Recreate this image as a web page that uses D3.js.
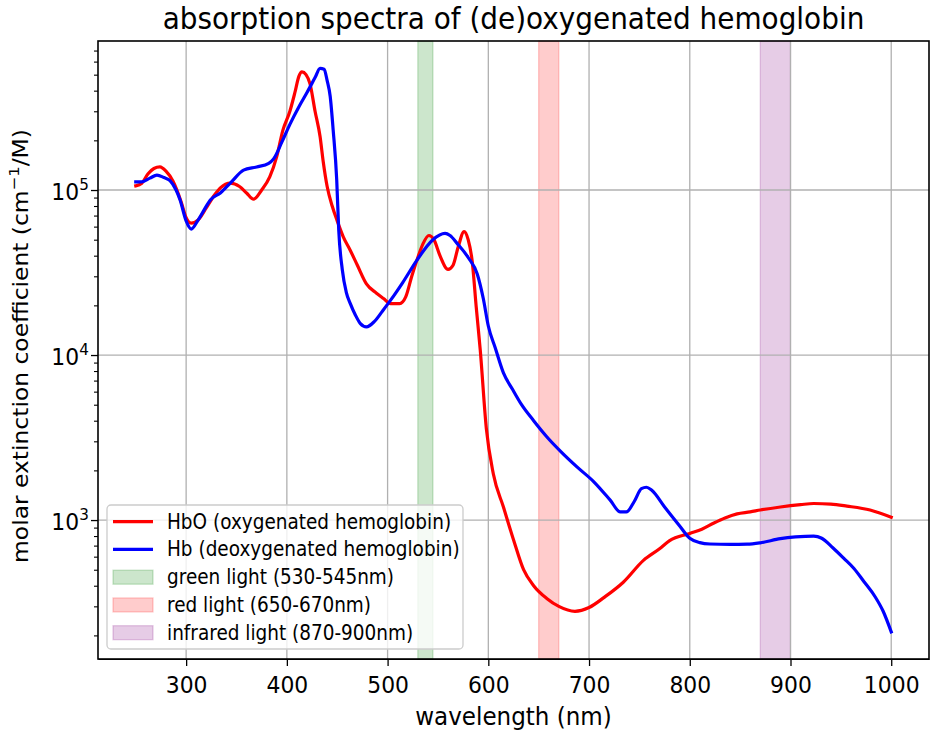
<!DOCTYPE html>
<html>
<head>
<meta charset="utf-8">
<script src="https://cdn.jsdelivr.net/npm/d3@7"></script>
<style>
  html, body { margin: 0; padding: 0; background: #fff; }
  svg { display: block; font-family: "DejaVu Sans", sans-serif; }
</style>
</head>
<body>
<div id="chart"></div>
<script>
// HbO (oxygenated) molar extinction
const hboWavelength = [250, 256, 262, 268, 274, 280, 287, 295, 300, 305, 312, 320, 328, 334, 344, 353, 360, 367, 375, 383,
  390, 396, 403, 408, 412, 415, 419, 423, 428, 433, 436, 440, 445, 450, 456, 463, 470, 479, 489, 496,
  503, 512, 518, 524, 530, 535, 541, 546, 552, 560, 565, 570, 576, 580, 584, 588, 592, 598, 605, 615,
  625, 635, 645, 658, 670, 686, 700, 715, 734, 754, 770, 780, 800, 812, 824, 835, 847, 860, 870, 890,
  910, 923, 940, 956, 979, 1000];
const hboValue = [106000, 110000, 125000, 135000, 138000, 130000, 113000, 85000, 68000, 63000, 66000, 78000, 93000, 103000, 110000, 105000, 96000, 88000, 100000, 120000,
  160000, 230000, 300000, 390000, 490000, 520000, 500000, 440000, 300000, 210000, 150000, 105000, 80000, 65000, 52000, 43000, 35000, 27000, 23700, 22000,
  20500, 20500, 22500, 30000, 39000, 47000, 53000, 50000, 40000, 33000, 35000, 45000, 56000, 50000, 37000, 19500, 10700, 3600, 1900, 1200,
  760, 500, 400, 335, 300, 280, 295, 340, 420, 570, 670, 750, 830, 880, 960, 1030, 1090, 1120, 1150, 1200,
  1240, 1260, 1250, 1215, 1150, 1040];

// Hb (deoxygenated)
const hbWavelength = [250, 256, 264, 271, 278, 284, 290, 294, 300, 305, 312, 318, 324, 334, 345, 357, 370, 382, 387, 395,
  403, 412, 420, 428, 433, 437, 440, 443, 446, 449.5, 451.5, 455, 459, 463, 468, 473, 479, 487, 495, 503,
  515, 529, 545, 557, 562, 569, 580, 589, 595, 600, 607, 615, 624, 633, 645, 658, 672, 688, 705, 721,
  731, 737, 745, 752, 757, 762, 775, 790, 800, 810, 820, 840, 857, 870, 890, 905, 923, 931, 942, 953,
  963, 973, 984, 992, 1000];
const hbValue = [112000, 112000, 118000, 123000, 119000, 114000, 100000, 87000, 65000, 58000, 66000, 76000, 87000, 96000, 112000, 132000, 138000, 145000, 155000, 195000,
  250000, 320000, 390000, 480000, 546000, 540000, 460000, 370000, 230000, 115000, 57000, 33000, 24000, 20500, 17500, 15500, 14800, 16000, 18500, 21500,
  27500, 37500, 50000, 54600, 53000, 47500, 39000, 31000, 22000, 15000, 11000, 7800, 6200, 5000, 4000, 3200, 2600, 2100, 1700, 1320,
  1120, 1120, 1300, 1550, 1580, 1520, 1200, 920, 775, 730, 716, 712, 714, 728, 771, 790, 800, 776, 680, 586,
  509, 423, 343, 280, 210];

const xTicks = [300, 400, 500, 600, 700, 800, 900, 1000];
const yMajorTicks = [1e3, 1e4, 1e5];

const bandLabels = ['green light (530-545nm)', 'red light (650-670nm)', 'infrared light (870-900nm)'];
const bandStart = [530, 650, 870];
const bandEnd = [545, 670, 900];
const bandColors = ['green', 'red', 'purple'];

const seriesLabels = ['HbO (oxygenated hemoglobin)', 'Hb (deoxygenated hemoglobin)'];
const seriesColors = ['#ff0000', '#0000ff'];

const width = 935, height = 736;
const plot = { left: 98, right: 929, top: 41, bottom: 659 };
const squeeze = 0.92; // glyphs in the picture are a little narrower than they are tall

const x = d3.scaleLinear().domain([212.5, 1037.5]).range([plot.left, plot.right]);
const y = d3.scaleLog().domain([Math.pow(10, 2.158), Math.pow(10, 5.903)]).range([plot.bottom, plot.top]);

const svg = d3.select('#chart').append('svg')
  .attr('width', width).attr('height', height);

svg.append('defs').append('clipPath').attr('id', 'clip')
  .append('rect')
  .attr('x', plot.left).attr('y', plot.top)
  .attr('width', plot.right - plot.left).attr('height', plot.bottom - plot.top);

// light bands
const bands = bandLabels.map((label, i) => ({ label, start: bandStart[i], end: bandEnd[i], color: bandColors[i] }));
svg.append('g').selectAll('rect').data(bands).join('rect')
  .attr('x', d => x(d.start)).attr('y', plot.top)
  .attr('width', d => x(d.end) - x(d.start)).attr('height', plot.bottom - plot.top)
  .attr('fill', d => d.color).attr('fill-opacity', 0.2)
  .attr('stroke', d => d.color).attr('stroke-opacity', 0.2).attr('stroke-width', 1.3);

// grid
const grid = svg.append('g').attr('stroke', '#b0b0b0').attr('stroke-width', 1.3);
grid.selectAll('line.gx').data(xTicks).join('line').attr('class', 'gx')
  .attr('x1', d => x(d)).attr('x2', d => x(d)).attr('y1', plot.top).attr('y2', plot.bottom);
grid.selectAll('line.gy').data(yMajorTicks).join('line').attr('class', 'gy')
  .attr('y1', d => y(d)).attr('y2', d => y(d)).attr('x1', plot.left).attr('x2', plot.right);

// spectra
const series = [
  { label: seriesLabels[0], color: seriesColors[0], pts: hboWavelength.map((w, i) => [w, hboValue[i]]) },
  { label: seriesLabels[1], color: seriesColors[1], pts: hbWavelength.map((w, i) => [w, hbValue[i]]) },
];
const line = d3.line().x(d => x(d[0])).y(d => y(d[1])).curve(d3.curveMonotoneX);
svg.append('g').attr('clip-path', 'url(#clip)')
  .selectAll('path').data(series).join('path')
  .attr('d', d => line(d.pts))
  .attr('fill', 'none').attr('stroke', d => d.color)
  .attr('stroke-width', 3.2).attr('stroke-linejoin', 'round').attr('stroke-linecap', 'square');

// axes
const xAxis = svg.append('g').attr('transform', `translate(0,${plot.bottom})`)
  .call(d3.axisBottom(x).tickValues(xTicks).tickSize(7).tickSizeOuter(0).tickFormat(d3.format('d')));
xAxis.selectAll('.tick line').attr('stroke', '#000').attr('stroke-width', 1.3);
xAxis.selectAll('.tick text')
  .attr('y', 34).attr('dy', null)
  .attr('font-size', 23.8).attr('fill', '#000')
  .attr('font-family', '"DejaVu Sans", sans-serif')
  .attr('transform', `scale(${squeeze},1)`);

const minorTicks = [];
for (let e = 2; e <= 5; e++) {
  for (let m = 1; m <= 9; m++) {
    const v = m * Math.pow(10, e);
    const [lo, hi] = y.domain();
    if (v >= lo && v <= hi && !yMajorTicks.includes(v)) minorTicks.push(v);
  }
}
const yMinor = svg.append('g').attr('transform', `translate(${plot.left},0)`)
  .call(d3.axisLeft(y).tickValues(minorTicks).tickSize(4).tickSizeOuter(0).tickFormat(''));
yMinor.select('.domain').remove();
yMinor.selectAll('.tick line').attr('stroke', '#000').attr('stroke-width', 1.1);

const yAxis = svg.append('g').attr('transform', `translate(${plot.left},0)`)
  .call(d3.axisLeft(y).tickValues(yMajorTicks).tickSize(7).tickSizeOuter(0).tickFormat(''));
yAxis.select('.domain').remove();
yAxis.selectAll('.tick line').attr('stroke', '#000').attr('stroke-width', 1.3);
const yLab = yAxis.selectAll('.tick text')
  .text(null)
  .attr('x', -10).attr('dy', null).attr('y', 9)
  .attr('font-size', 23.8).attr('fill', '#000')
  .attr('font-family', '"DejaVu Sans", sans-serif')
  .attr('text-anchor', 'end')
  .attr('transform', `scale(${squeeze},1)`);
yLab.append('tspan').text('10');
yLab.append('tspan').attr('dy', -10).attr('font-size', 16.5).text(d => Math.round(Math.log10(d)));

// frame
svg.append('rect')
  .attr('x', plot.left).attr('y', plot.top)
  .attr('width', plot.right - plot.left).attr('height', plot.bottom - plot.top)
  .attr('fill', 'none').attr('stroke', '#000').attr('stroke-width', 1.6);

// title and axis labels
svg.append('text')
  .attr('transform', `translate(${(plot.left + plot.right) / 2},29) scale(0.9,1)`)
  .attr('text-anchor', 'middle').attr('font-size', 31).attr('fill', '#000')
  .text('absorption spectra of (de)oxygenated hemoglobin');

svg.append('text')
  .attr('transform', `translate(${(plot.left + plot.right) / 2},725) scale(0.96,1)`)
  .attr('text-anchor', 'middle').attr('font-size', 24).attr('fill', '#000')
  .text('wavelength (nm)');

const yTitle = svg.append('text')
  .attr('transform', `translate(28,346) scale(0.9,1) rotate(-90)`)
  .attr('text-anchor', 'middle').attr('font-size', 23.4).attr('fill', '#000');
yTitle.append('tspan').text('molar extinction coefficient (cm');
yTitle.append('tspan').attr('dy', -9.5).attr('font-size', 16.4).text('\u22121');
yTitle.append('tspan').attr('dy', 9.5).text('/M)');

// legend
const legend = svg.append('g');
legend.append('rect')
  .attr('x', 107).attr('y', 505).attr('width', 356).attr('height', 144).attr('rx', 4)
  .attr('fill', '#fff').attr('fill-opacity', 0.8)
  .attr('stroke', '#cccccc').attr('stroke-width', 1.3);

const rowY = d3.scalePoint().domain(d3.range(5)).range([521.7, 632.7]);
const items = series.map(s => ({ label: s.label, color: s.color, kind: 'line' }))
  .concat(bands.map(b => ({ label: b.label, color: b.color, kind: 'patch' })));
const row = legend.selectAll('g.item').data(items).join('g').attr('class', 'item')
  .attr('transform', (d, i) => `translate(0,${rowY(i)})`);
row.filter(d => d.kind === 'line').append('line')
  .attr('x1', 113).attr('x2', 153).attr('y1', 0).attr('y2', 0)
  .attr('stroke', d => d.color).attr('stroke-width', 3.2);
row.filter(d => d.kind === 'patch').append('rect')
  .attr('x', 113).attr('y', -7).attr('width', 40).attr('height', 14)
  .attr('fill', d => d.color).attr('fill-opacity', 0.2)
  .attr('stroke', d => d.color).attr('stroke-opacity', 0.2).attr('stroke-width', 1.3);
row.append('text')
  .attr('transform', `translate(167,7) scale(0.9,1)`)
  .attr('font-size', 20.5).attr('fill', '#000')
  .text(d => d.label);
</script>
</body>
</html>
